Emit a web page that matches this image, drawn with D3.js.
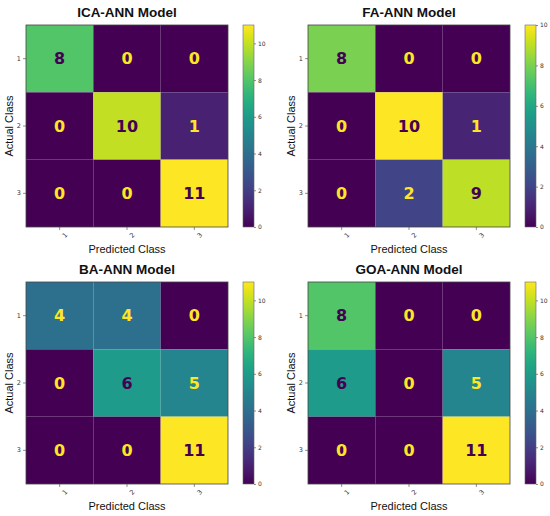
<!DOCTYPE html>
<html>
<head>
<meta charset="utf-8">
<script src="https://cdn.jsdelivr.net/npm/d3@7"></script>
<style>
  body { margin: 0; background: #fff; }
  svg { display: block; }
</style>
</head>
<body>
<svg id="chart" width="550" height="516"></svg>
<script>
(function () {

    // data
    var classes = ["1", "2", "3"],
        titles = ["ICA-ANN Model", "FA-ANN Model", "BA-ANN Model", "GOA-ANN Model"],
        icaMatrix = [[8, 0, 0], [0, 10, 1], [0, 0, 11]],
        faMatrix = [[8, 0, 0], [0, 10, 1], [0, 2, 9]],
        baMatrix = [[4, 4, 0], [0, 6, 5], [0, 0, 11]],
        goaMatrix = [[8, 0, 0], [6, 0, 5], [0, 0, 11]],
        matrices = [icaMatrix, faMatrix, baMatrix, goaMatrix];

    var svg = d3.select('#chart'),
        size = 202,
        colX = [26, 308],
        rowY = [25, 282],
        defs = svg.append("defs");

    // viridis gradient for colorbars
    var grad = defs.append("linearGradient")
        .attr("id", "viridis")
        .attr("x1", "0").attr("y1", "1")
        .attr("x2", "0").attr("y2", "0");
    d3.range(0, 1.0001, 0.05).forEach(function (t) {
        grad.append("stop")
            .attr("offset", t)
            .attr("stop-color", d3.interpolateViridis(t));
    });

    matrices.forEach(function (m, i) {
        var left = colX[i % 2],
            top = rowY[Math.floor(i / 2)],
            flat = d3.merge(m),
            vmin = d3.min(flat),
            vmax = d3.max(flat),
            thresh = (vmin + vmax) / 2;

        var x = d3.scaleBand().domain(classes).range([0, size]),
            y = d3.scaleBand().domain(classes).range([0, size]),
            color = d3.scaleSequential(d3.interpolateViridis).domain([vmin, vmax]);

        var g = svg.append("g")
            .attr("transform", "translate(" + left + "," + top + ")");

        var cells = [];
        m.forEach(function (row, r) {
            row.forEach(function (v, c) {
                cells.push({ r: classes[r], c: classes[c], v: v });
            });
        });

        g.selectAll("rect.cell")
            .data(cells)
            .enter().append("rect")
                .attr("class", "cell")
                .attr("x", function (d) { return x(d.c); })
                .attr("y", function (d) { return y(d.r); })
                .attr("width", x.bandwidth())
                .attr("height", y.bandwidth())
                .attr("fill", function (d) { return color(d.v); });

        g.selectAll("text.val")
            .data(cells)
            .enter().append("text")
                .attr("class", "val")
                .attr("x", function (d) { return x(d.c) + x.bandwidth() / 2; })
                .attr("y", function (d) { return y(d.r) + y.bandwidth() / 2; })
                .attr("dy", "0.36em")
                .attr("text-anchor", "middle")
                .style("font", "bold 16px 'DejaVu Sans'")
                .attr("fill", function (d) { return d.v < thresh ? "#fde725" : "#440154"; })
                .text(function (d) { return d.v; });

        g.append("rect")
            .attr("width", size)
            .attr("height", size)
            .attr("fill", "none")
            .attr("stroke", "#444")
            .attr("stroke-width", 0.8);

        // axes
        var yAxis = g.append("g")
            .call(d3.axisLeft(y).tickSize(3).tickPadding(2));
        var xAxis = g.append("g")
            .attr("transform", "translate(0," + size + ")")
            .call(d3.axisBottom(x).tickSize(3).tickPadding(2));
        [xAxis, yAxis].forEach(function (a) {
            a.select(".domain").remove();
            a.selectAll("line").attr("stroke", "#444").attr("stroke-width", 0.6);
            a.selectAll("text")
                .style("font", "6.5px 'DejaVu Sans'")
                .attr("fill", "#333");
        });
        xAxis.selectAll("text")
            .attr("text-anchor", "middle")
            .attr("transform", "translate(0,3) rotate(-45)");

        g.append("text")
            .attr("x", size / 2)
            .attr("y", -8)
            .attr("text-anchor", "middle")
            .style("font", "bold 13.5px 'Liberation Sans'")
            .attr("fill", "#111")
            .text(titles[i]);

        g.append("text")
            .attr("x", size / 2)
            .attr("y", size + 26)
            .attr("text-anchor", "middle")
            .style("font", "11px 'Liberation Sans'")
            .attr("fill", "#111")
            .text("Predicted Class");

        g.append("text")
            .attr("transform", "translate(-13," + (size / 2) + ") rotate(-90)")
            .attr("text-anchor", "middle")
            .style("font", "11px 'Liberation Sans'")
            .attr("fill", "#111")
            .text("Actual Class");

        // colorbar
        var cb = g.append("g")
            .attr("transform", "translate(" + (size + 15) + ",0)"),
            cbScale = d3.scaleLinear().domain([vmin, vmax]).range([size, 0]);

        cb.append("rect")
            .attr("width", 11)
            .attr("height", size)
            .attr("fill", "url(#viridis)")
            .attr("stroke", "#666")
            .attr("stroke-width", 0.6);

        var cbAxis = cb.append("g")
            .attr("transform", "translate(11,0)")
            .call(d3.axisRight(cbScale).tickValues(d3.range(0, vmax + 0.001, 2))
                .tickSize(2).tickPadding(2));
        cbAxis.select(".domain").remove();
        cbAxis.selectAll("line").attr("stroke", "#444").attr("stroke-width", 0.6);
        cbAxis.selectAll("text")
            .style("font", "6px 'DejaVu Sans'")
            .attr("fill", "#333");
    });

}());
</script>
</body>
</html>
